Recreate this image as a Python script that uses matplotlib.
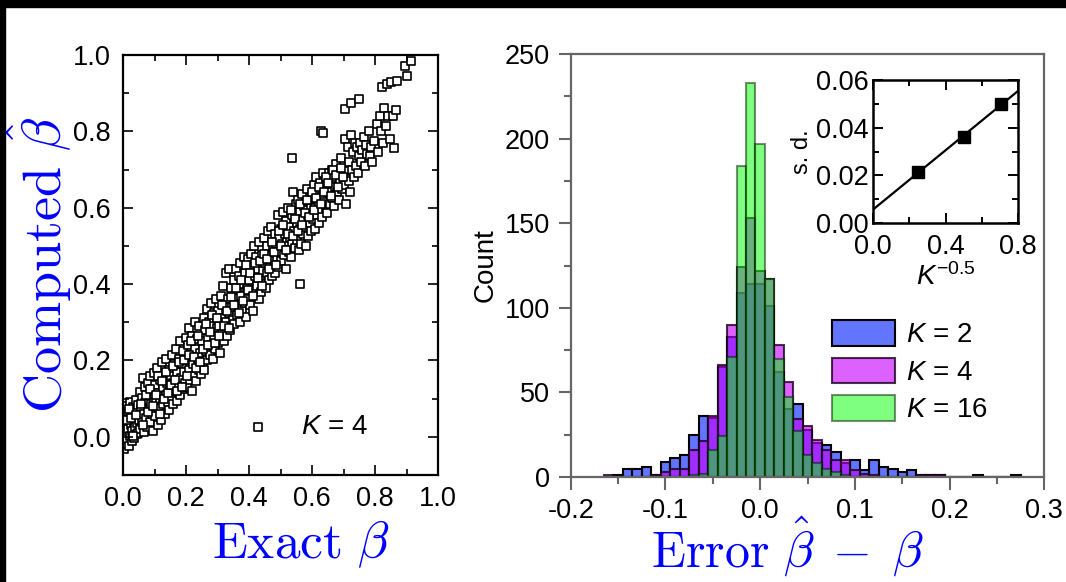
import numpy as np
import matplotlib
matplotlib.use('Agg')
import matplotlib.pyplot as plt
from matplotlib.patches import Rectangle
from matplotlib.ticker import MultipleLocator, FormatStrFormatter

plt.rcParams['font.family'] = 'Liberation Sans'
plt.rcParams['mathtext.fontset'] = 'custom'
plt.rcParams['mathtext.rm'] = 'Liberation Sans'
plt.rcParams['mathtext.it'] = 'Liberation Sans:italic'

# (exact beta, computed beta) pairs, K = 4
points_k4 = [
    (0.003, -0.032), (0.005, 0.012), (0.006, 0.058), (0.008, -0.018), (0.010, 0.035), (0.011, 0.082),
    (0.013, -0.005), (0.015, 0.021), (0.016, 0.066), (0.018, -0.025), (0.020, 0.047), (0.021, 0.003),
    (0.023, 0.090), (0.025, 0.030), (0.027, -0.012), (0.028, 0.061), (0.030, 0.015), (0.032, 0.078),
    (0.034, 0.040), (0.035, -0.002), (0.037, 0.052), (0.039, 0.025), (0.041, 0.096), (0.043, 0.008),
    (0.045, 0.068), (0.046, 0.036), (0.048, 0.011), (0.049, 0.084),
    (0.051, 0.045), (0.053, 0.118), (0.055, 0.020), (0.057, 0.072), (0.059, 0.101), (0.061, 0.038),
    (0.063, 0.155), (0.065, 0.060), (0.067, 0.012), (0.069, 0.088), (0.071, 0.130), (0.073, 0.050),
    (0.075, 0.097), (0.077, 0.025), (0.079, 0.142), (0.081, 0.070), (0.083, 0.110), (0.085, 0.040),
    (0.087, 0.160), (0.089, 0.085), (0.091, 0.060), (0.093, 0.125), (0.095, 0.015), (0.097, 0.100),
    (0.099, 0.168),
    (0.101, 0.055), (0.103, 0.135), (0.106, 0.090), (0.108, 0.180), (0.110, 0.030), (0.112, 0.115),
    (0.115, 0.075), (0.117, 0.150), (0.119, 0.100), (0.121, 0.045), (0.123, 0.195), (0.126, 0.128),
    (0.128, 0.085), (0.130, 0.160), (0.133, 0.060), (0.135, 0.110), (0.137, 0.205), (0.140, 0.140),
    (0.142, 0.092), (0.145, 0.175), (0.147, 0.070), (0.149, 0.125),
    (0.151, 0.160), (0.153, 0.105), (0.156, 0.215), (0.158, 0.085), (0.160, 0.140), (0.163, 0.190),
    (0.165, 0.120), (0.167, 0.230), (0.170, 0.095), (0.172, 0.170), (0.175, 0.135), (0.177, 0.205),
    (0.180, 0.110), (0.182, 0.250), (0.185, 0.155), (0.187, 0.190), (0.190, 0.125), (0.192, 0.225),
    (0.195, 0.170), (0.197, 0.140), (0.199, 0.260),
    (0.201, 0.200), (0.203, 0.130), (0.206, 0.240), (0.208, 0.175), (0.211, 0.285), (0.213, 0.150),
    (0.215, 0.215), (0.218, 0.120), (0.220, 0.265), (0.223, 0.190), (0.225, 0.160), (0.228, 0.300),
    (0.230, 0.230), (0.232, 0.145), (0.235, 0.255), (0.238, 0.205), (0.240, 0.175), (0.242, 0.290),
    (0.245, 0.220), (0.248, 0.165),
    (0.251, 0.250), (0.253, 0.195), (0.256, 0.310), (0.258, 0.175), (0.261, 0.280), (0.263, 0.225),
    (0.266, 0.335), (0.268, 0.200), (0.270, 0.260), (0.273, 0.300), (0.275, 0.215), (0.278, 0.350),
    (0.280, 0.240), (0.283, 0.290), (0.285, 0.205), (0.288, 0.325), (0.290, 0.265), (0.293, 0.230),
    (0.295, 0.360), (0.298, 0.285),
    (0.301, 0.245), (0.303, 0.330), (0.306, 0.290), (0.308, 0.220), (0.311, 0.370), (0.313, 0.270),
    (0.316, 0.310), (0.318, 0.395), (0.321, 0.250), (0.323, 0.345), (0.326, 0.300), (0.328, 0.430),
    (0.331, 0.265), (0.333, 0.360), (0.336, 0.325), (0.338, 0.440), (0.341, 0.280), (0.343, 0.390),
    (0.346, 0.340), (0.348, 0.305),
    (0.351, 0.410), (0.353, 0.295), (0.356, 0.365), (0.358, 0.440), (0.361, 0.320), (0.363, 0.385),
    (0.366, 0.345), (0.368, 0.420), (0.371, 0.300), (0.373, 0.455), (0.376, 0.370), (0.378, 0.330),
    (0.381, 0.400), (0.383, 0.470), (0.386, 0.350), (0.388, 0.430), (0.391, 0.315), (0.393, 0.390),
    (0.396, 0.465), (0.398, 0.360),
    (0.401, 0.410), (0.403, 0.345), (0.406, 0.480), (0.408, 0.385), (0.411, 0.450), (0.413, 0.330),
    (0.416, 0.500), (0.418, 0.420), (0.421, 0.365), (0.423, 0.470), (0.426, 0.395), (0.428, 0.440),
    (0.431, 0.360), (0.433, 0.510), (0.436, 0.415), (0.438, 0.380), (0.441, 0.475), (0.443, 0.435),
    (0.446, 0.400), (0.448, 0.520),
    (0.451, 0.455), (0.453, 0.390), (0.456, 0.500), (0.458, 0.430), (0.461, 0.540), (0.463, 0.410),
    (0.466, 0.475), (0.468, 0.445), (0.471, 0.550), (0.473, 0.420), (0.476, 0.495), (0.478, 0.460),
    (0.481, 0.530), (0.483, 0.430), (0.486, 0.505), (0.488, 0.470), (0.491, 0.580), (0.493, 0.445),
    (0.496, 0.520), (0.498, 0.485),
    (0.501, 0.545), (0.503, 0.460), (0.506, 0.505), (0.508, 0.590), (0.511, 0.475), (0.513, 0.530),
    (0.516, 0.565), (0.518, 0.440), (0.521, 0.510), (0.523, 0.600), (0.526, 0.485), (0.528, 0.550),
    (0.531, 0.520), (0.533, 0.470), (0.536, 0.580), (0.538, 0.505), (0.541, 0.640), (0.543, 0.540),
    (0.546, 0.495), (0.548, 0.610), (0.537, 0.729), (0.561, 0.400),
    (0.551, 0.560), (0.553, 0.515), (0.556, 0.620), (0.558, 0.490), (0.561, 0.545), (0.563, 0.590),
    (0.566, 0.505), (0.568, 0.635), (0.571, 0.570), (0.573, 0.530), (0.576, 0.605), (0.578, 0.550),
    (0.581, 0.500), (0.583, 0.650), (0.586, 0.580), (0.588, 0.525), (0.591, 0.615), (0.593, 0.560),
    (0.596, 0.600), (0.598, 0.540),
    (0.601, 0.625), (0.603, 0.570), (0.606, 0.660), (0.608, 0.545), (0.611, 0.600), (0.613, 0.680),
    (0.616, 0.580), (0.618, 0.640), (0.621, 0.610), (0.623, 0.560), (0.626, 0.665), (0.628, 0.595),
    (0.631, 0.630), (0.633, 0.575), (0.636, 0.690), (0.638, 0.615), (0.641, 0.650), (0.643, 0.600),
    (0.646, 0.670), (0.648, 0.585), (0.630, 0.800), (0.636, 0.797),
    (0.651, 0.640), (0.653, 0.690), (0.656, 0.610), (0.659, 0.665), (0.662, 0.700), (0.665, 0.625),
    (0.668, 0.680), (0.671, 0.605), (0.674, 0.655), (0.677, 0.715), (0.680, 0.640), (0.683, 0.690),
    (0.686, 0.620), (0.689, 0.670), (0.692, 0.730), (0.695, 0.650), (0.698, 0.700),
    (0.702, 0.660), (0.705, 0.780), (0.707, 0.610), (0.710, 0.695), (0.713, 0.760), (0.716, 0.670),
    (0.719, 0.720), (0.722, 0.640), (0.725, 0.790), (0.728, 0.700), (0.731, 0.745), (0.734, 0.680),
    (0.737, 0.770), (0.740, 0.710), (0.744, 0.760), (0.747, 0.690), (0.749, 0.735),
    (0.704, 0.858), (0.725, 0.873), (0.749, 0.884),
    (0.752, 0.770), (0.756, 0.720), (0.760, 0.750), (0.764, 0.785), (0.768, 0.710), (0.772, 0.765),
    (0.776, 0.740), (0.780, 0.800), (0.784, 0.735), (0.788, 0.760), (0.792, 0.720), (0.796, 0.775),
    (0.805, 0.820), (0.810, 0.745), (0.815, 0.840), (0.818, 0.800), (0.822, 0.915), (0.826, 0.770),
    (0.830, 0.860), (0.834, 0.815), (0.838, 0.925), (0.842, 0.840), (0.848, 0.780), (0.852, 0.930),
    (0.856, 0.840), (0.860, 0.756), (0.866, 0.855), (0.870, 0.932), (0.895, 0.970), (0.900, 0.945),
    (0.915, 0.985),
    # extra points in the crowded middle of the band
    (0.012, 0.045), (0.019, 0.072), (0.026, 0.050), (0.033, 0.002), (0.042, 0.058), (0.058, 0.085),
    (0.064, 0.030), (0.072, 0.110), (0.078, 0.065), (0.086, 0.125), (0.094, 0.080), (0.104, 0.110),
    (0.111, 0.160), (0.118, 0.060), (0.124, 0.145), (0.131, 0.100), (0.138, 0.170), (0.144, 0.115),
    (0.152, 0.135), (0.159, 0.185), (0.166, 0.150), (0.173, 0.120), (0.179, 0.195), (0.186, 0.130),
    (0.194, 0.200), (0.204, 0.160), (0.209, 0.215), (0.216, 0.250), (0.224, 0.210), (0.231, 0.180),
    (0.239, 0.265), (0.246, 0.195), (0.254, 0.230), (0.262, 0.295), (0.269, 0.240), (0.276, 0.275),
    (0.284, 0.320), (0.291, 0.245), (0.299, 0.310), (0.305, 0.265), (0.314, 0.345), (0.322, 0.290),
    (0.329, 0.330), (0.337, 0.285), (0.344, 0.365), (0.352, 0.345), (0.359, 0.390), (0.367, 0.325),
    (0.374, 0.410), (0.382, 0.355), (0.389, 0.450), (0.397, 0.385), (0.404, 0.430), (0.412, 0.370),
    (0.419, 0.455), (0.427, 0.415), (0.434, 0.460), (0.442, 0.395), (0.449, 0.480), (0.457, 0.465),
    (0.464, 0.440), (0.472, 0.510), (0.479, 0.485), (0.487, 0.450), (0.494, 0.540), (0.502, 0.500),
    (0.509, 0.555), (0.517, 0.490), (0.524, 0.530), (0.532, 0.595), (0.539, 0.525), (0.547, 0.570),
    (0.554, 0.540), (0.562, 0.610), (0.569, 0.555), (0.577, 0.585), (0.584, 0.620), (0.592, 0.575),
    (0.599, 0.640), (0.607, 0.595), (0.614, 0.625), (0.622, 0.655), (0.629, 0.610), (0.637, 0.640),
    (0.644, 0.680), (0.652, 0.665), (0.660, 0.630), (0.667, 0.700), (0.675, 0.685), (0.684, 0.655),
    (0.691, 0.705), (0.699, 0.680),
]
beta_exact = [p[0] for p in points_k4]
beta_computed = [p[1] for p in points_k4]

# error histogram, bins of width 0.01 centred on -0.16 ... 0.27
bin_centers = [round(-0.16 + 0.01 * i, 2) for i in range(44)]
counts_k2 = [0, 1, 5, 5, 6, 1, 9, 11, 13, 25, 36, 35, 65, 83, 109, 114, 114, 101, 62, 40, 43, 28,
             20, 19, 15, 8, 10, 4, 10, 6, 5, 3, 4, 1, 1, 1, 0, 0, 0, 1, 0, 0, 0, 1]
counts_k4 = [1, 0, 0, 0, 0, 1, 3, 5, 5, 16, 21, 36, 66, 90, 124, 153, 122, 117, 78, 56, 34, 30,
             22, 16, 10, 10, 4, 2, 1, 0, 0, 0, 0, 1, 1, 1, 0, 0, 0, 0, 0, 0, 0, 0]
counts_k16 = [0, 0, 0, 0, 0, 0, 0, 0, 0, 1, 2, 16, 24, 71, 184, 233, 197, 117, 70, 47, 27, 13,
              8, 5, 3, 1, 0, 0, 0, 0, 0, 0, 0, 0, 0, 0, 0, 0, 0, 0, 0, 0, 0, 0]

# inset: standard deviation vs K^-0.5
k_values = [16, 4, 2]
sd_values = [0.0215, 0.036, 0.050]

blue = '#0000ff'
tick_fs = 19.5

fig = plt.figure(figsize=(10.66, 5.82), dpi=100)

# black strips along top and left edge
fig.add_artist(Rectangle((0, 1 - 7 / 582), 1, 7 / 582, transform=fig.transFigure, color='black', zorder=10))
fig.add_artist(Rectangle((0, 0), 5 / 1066, 1, transform=fig.transFigure, color='black', zorder=10))

# ---- left: computed vs exact ----
ax1 = fig.add_axes([123 / 1066, 1 - 475 / 582, 315 / 1066, 420 / 582])
ax1.scatter(beta_exact, beta_computed, s=34, marker='s', facecolors='white',
            edgecolors='black', linewidths=1.2, label=r'$K$ = 4')
ax1.set_xlim(0, 1.0)
ax1.set_ylim(-0.1, 1.0)
ax1.xaxis.set_major_locator(MultipleLocator(0.2))
ax1.xaxis.set_minor_locator(MultipleLocator(0.1))
ax1.yaxis.set_major_locator(MultipleLocator(0.2))
ax1.yaxis.set_minor_locator(MultipleLocator(0.1))
ax1.xaxis.set_major_formatter(FormatStrFormatter('%.1f'))
ax1.yaxis.set_major_formatter(FormatStrFormatter('%.1f'))
ax1.tick_params(which='both', direction='in', top=True, right=True, width=1.2, labelsize=tick_fs)
ax1.tick_params(which='major', length=7)
ax1.tick_params(which='minor', length=4)
ax1.tick_params(axis='x', pad=8)
ax1.tick_params(axis='y', pad=9)
for s in ax1.spines.values():
    s.set_linewidth(1.6)
ax1.set_xlabel(r'$\mathrm{Exact}\ \beta$', fontsize=37, color=blue, math_fontfamily='cm', va='baseline')
ax1.xaxis.set_label_coords(0.565, -0.198)
ax1.set_ylabel(r'$\mathrm{Computed}\ \hat{\beta}$', fontsize=39, color=blue, math_fontfamily='cm')
ax1.yaxis.set_label_coords(-0.155, 0.5)
ax1.legend(loc='center left', bbox_to_anchor=(0.354, 0.114), frameon=False, scatterpoints=1,
           fontsize=20, handlelength=1.7, handletextpad=0.7, borderpad=0, borderaxespad=0)

# ---- right: error histograms ----
ax2 = fig.add_axes([570.8 / 1066, 1 - 477 / 582, 473.5 / 1066, 423 / 582])
ax2.bar(bin_centers, counts_k2, width=0.01, facecolor=(0.0, 0.125, 1.0, 0.62),
        edgecolor='black', linewidth=1.5, label=r'$K$ = 2')
ax2.bar(bin_centers, counts_k4, width=0.01, facecolor=(0.78, 0.0, 1.0, 0.62),
        edgecolor=(0.1, 0.0, 0.1, 0.8), linewidth=1.5, label=r'$K$ = 4')
ax2.bar(bin_centers, counts_k16, width=0.01, facecolor=(0.0, 1.0, 0.0, 0.5),
        edgecolor=(0.0, 0.1, 0.0, 0.5), linewidth=1.5, label=r'$K$ = 16')
ax2.set_xlim(-0.2, 0.3)
ax2.set_ylim(0, 250)
ax2.xaxis.set_major_locator(MultipleLocator(0.1))
ax2.xaxis.set_minor_locator(MultipleLocator(0.05))
ax2.yaxis.set_major_locator(MultipleLocator(50))
ax2.yaxis.set_minor_locator(MultipleLocator(25))
ax2.xaxis.set_major_formatter(FormatStrFormatter('%.1f'))
ax2.tick_params(which='both', direction='out', color='#666666', width=1.5, labelsize=tick_fs)
ax2.tick_params(which='major', length=9)
ax2.tick_params(which='minor', length=5)
ax2.tick_params(axis='x', pad=6)
ax2.tick_params(axis='y', pad=6)
for s in ax2.spines.values():
    s.set_color('#666666')
    s.set_linewidth(1.6)
ax2.set_xlabel(r'$\mathrm{Error}\ \hat{\beta}\;-\;\beta$', fontsize=36, color=blue, math_fontfamily='cm',
               va='baseline')
ax2.xaxis.set_label_coords(0.458, -0.212)
ax2.set_ylabel('Count', fontsize=20)
ax2.yaxis.set_label_coords(-0.152, 0.5)
ax2.legend(loc='upper left', bbox_to_anchor=(0.552, 0.371), frameon=False, fontsize=20,
           handlelength=2.27, handleheight=1.04, handletextpad=0.4, labelspacing=0.33,
           borderpad=0, borderaxespad=0)

# ---- inset ----
ax3 = fig.add_axes([873 / 1066, 1 - 223 / 582, 145 / 1066, 143 / 582])
k_inv_sqrt = [k ** -0.5 for k in k_values]
slope, intercept = np.polyfit(k_inv_sqrt, sd_values, 1)
line_x = np.array([0.0, 0.8])
ax3.plot(line_x, slope * line_x + intercept, color='black', lw=1.6)
ax3.plot(k_inv_sqrt, sd_values, 's', color='black', markersize=9)
ax3.set_xlim(0, 0.8)
ax3.set_ylim(0, 0.06)
ax3.xaxis.set_major_locator(MultipleLocator(0.4))
ax3.xaxis.set_minor_locator(MultipleLocator(0.2))
ax3.yaxis.set_major_locator(MultipleLocator(0.02))
ax3.yaxis.set_minor_locator(MultipleLocator(0.01))
ax3.xaxis.set_major_formatter(FormatStrFormatter('%.1f'))
ax3.yaxis.set_major_formatter(FormatStrFormatter('%.2f'))
ax3.tick_params(which='both', direction='in', top=True, right=True, width=1.4, labelsize=tick_fs)
ax3.tick_params(which='major', length=7)
ax3.tick_params(which='minor', length=4)
ax3.tick_params(axis='x', pad=8)
ax3.tick_params(axis='y', pad=3)
for s in ax3.spines.values():
    s.set_linewidth(1.8)
ax3.set_ylabel('s. d.', fontsize=17, labelpad=2)
ax3.set_xlabel(r'$K^{\mathrm{-0.5}}$', fontsize=20, labelpad=2)

fig.savefig('out.png', dpi=100)
